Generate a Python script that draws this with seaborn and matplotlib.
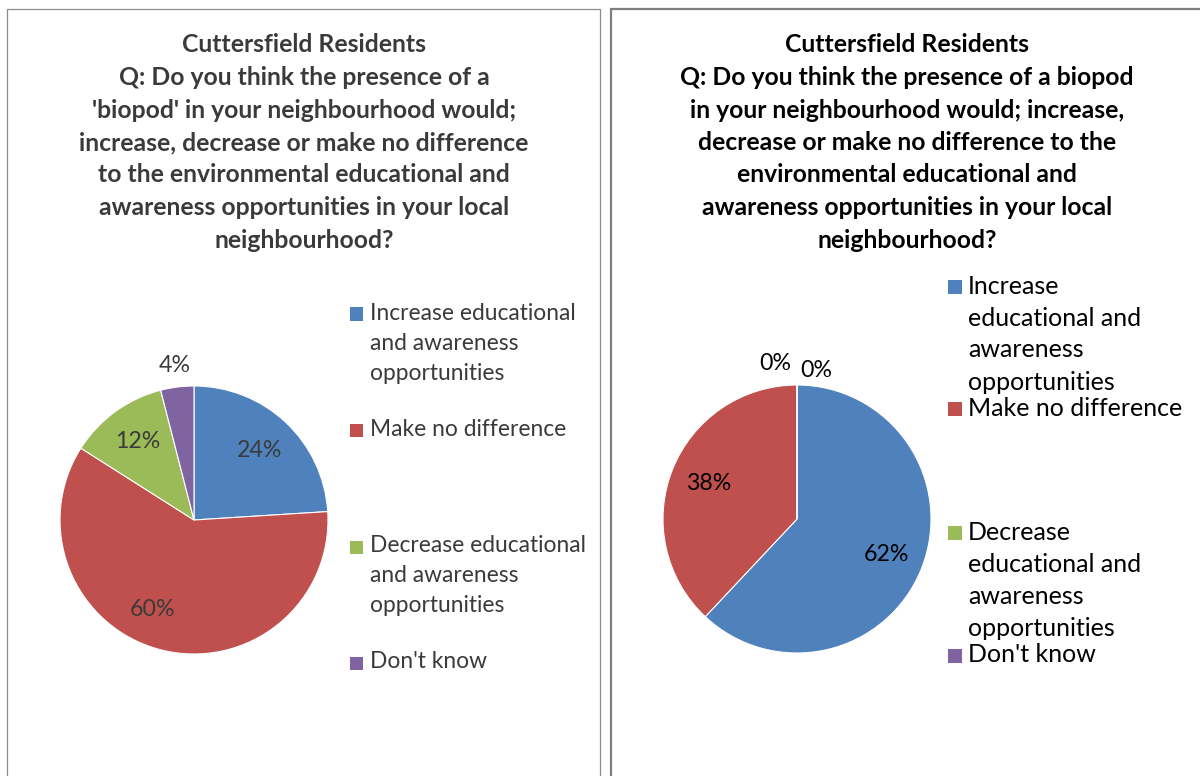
import textwrap
import matplotlib
matplotlib.use("Agg")
import matplotlib.pyplot as plt
from matplotlib.patches import Rectangle
import numpy as np
import seaborn as sns

# Survey categories and responses (share of residents)
categories = [
    "Increase educational and awareness opportunities",
    "Make no difference",
    "Decrease educational and awareness opportunities",
    "Don't know",
]
left_values = [24, 60, 12, 4]
right_values = [62, 38, 0, 0]

left_title = [
    "Cuttersfield Residents",
    "Q: Do you think the presence of a",
    "'biopod' in your neighbourhood would;",
    "increase, decrease or make no difference",
    "to the environmental educational and",
    "awareness opportunities in your local",
    "neighbourhood?",
]
right_title = [
    "Cuttersfield Residents",
    "Q: Do you think the presence of a biopod",
    "in your neighbourhood would; increase,",
    "decrease or make no difference to the",
    "environmental educational and",
    "awareness opportunities in your local",
    "neighbourhood?",
]

sns.set_theme(style="white")
plt.rcParams["font.family"] = ["Lato", "DejaVu Sans"]
palette = ["#4F81BD", "#C0504D", "#9BBB59", "#8064A2"]

W, H = 1200, 776
fig = plt.figure(figsize=(W / 100, H / 100), dpi=100)


def fx(x):
    return x / W


def fy(y):
    return 1 - y / H


# panel frames
fig.patches.append(Rectangle((fx(7), fy(790)), fx(593), 790 / H - 9 / H,
                             transform=fig.transFigure, fill=False,
                             edgecolor="#8c8c8c", linewidth=0.9))
fig.patches.append(Rectangle((fx(611), fy(790)), fx(620), 790 / H - 9 / H,
                             transform=fig.transFigure, fill=False,
                             edgecolor="#7f7f7f", linewidth=1.6))


def draw_title(lines, cx, y0, step, color):
    for i, line in enumerate(lines):
        fig.text(fx(cx), fy(y0 + i * step), line, ha="center", va="center",
                 fontsize=17.8, fontweight="bold", color=color)


def draw_pie(values, cx, cy, r, label_color, radii, offsets):
    ax = fig.add_axes([fx(cx - r), fy(cy + r), fx(2 * r), 2 * r / H])
    ax.pie(values, colors=palette, startangle=90, counterclock=False,
           radius=1, wedgeprops=dict(linewidth=0.8, edgecolor="white"))
    ax.set_xlim(-1, 1)
    ax.set_ylim(-1, 1)
    ax.set_aspect("equal")
    ax.axis("off")
    total = float(sum(values))
    cum = 0.0
    for i, v in enumerate(values):
        mid = np.deg2rad(90 - 360 * (cum + v / 2) / total)
        cum += v
        rr = radii[i]
        dx, dy = offsets[i]
        ax.text(rr * np.cos(mid) + dx, rr * np.sin(mid) + dy,
                f"{v / total * 100:.0f}%", ha="center", va="center",
                fontsize=16.7, color=label_color, clip_on=False)


def draw_legend(x, entries, color, fontsize, step, size):
    for k, (ys, lines) in enumerate(entries):
        fig.patches.append(Rectangle((fx(x), fy(ys + size / 2 + 1)),
                                     fx(size), size / H,
                                     transform=fig.transFigure,
                                     facecolor=palette[k], edgecolor="none"))
        for j, line in enumerate(lines):
            fig.text(fx(x + 20), fy(ys + j * step), line, ha="left",
                     va="center", fontsize=fontsize, color=color)


# left chart
draw_title(left_title, 304, 45, 32.5, "#3a3a3a")
draw_pie(left_values, 194, 520, 134, "#3a3a3a",
         radii=[0.71, 0.72, 0.72, 1.16],
         offsets=[(0, 0), (-0.13, 0.03), (0, 0), (0, 0)])
left_wrap = [textwrap.wrap(c, 21) for c in categories]
draw_legend(350, list(zip([313, 429, 546, 662], left_wrap)),
            "#3a3a3a", 16.4, 30, 13)

# right chart
draw_title(right_title, 907, 45, 32.5, "#000000")
draw_pie(right_values, 797, 519, 134, "#000000",
         radii=[0.72, 0.71, 1.17, 1.17],
         offsets=[(0, 0), (0, 0), (-0.16, -0.01), (0.14, -0.06)])
right_wrap = [textwrap.wrap(c, 18) for c in categories]
draw_legend(948, list(zip([286, 408, 532, 655], right_wrap)),
            "#000000", 18, 32, 14)

fig.savefig("out.png", dpi=100)
